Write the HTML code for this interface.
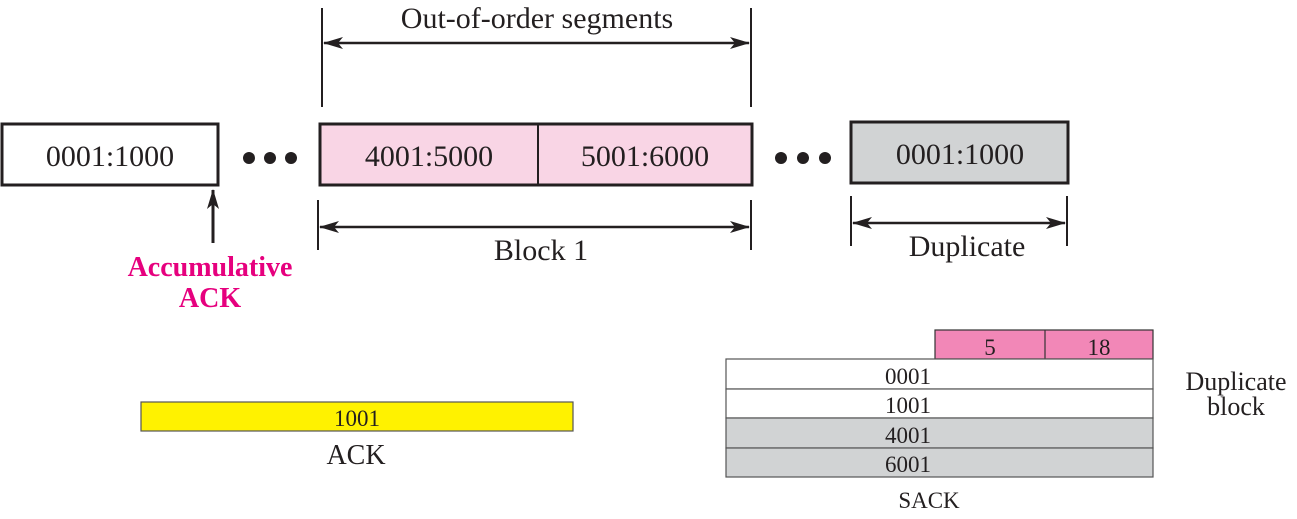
<!DOCTYPE html>
<html><head><meta charset="utf-8"><style>
html,body{margin:0;padding:0;background:#fff;}
svg{display:block;}
text{font-family:"Liberation Serif",serif;fill:#231f20;}
</style></head><body>
<svg width="1297" height="519" viewBox="0 0 1297 519" xmlns="http://www.w3.org/2000/svg">
<defs>
<marker id="ah" viewBox="0 0 20 12" refX="19" refY="6" markerWidth="20" markerHeight="12" markerUnits="userSpaceOnUse" orient="auto-start-reverse">
<path d="M0,0 L20,6 L0,12 L5,6 Z" fill="#231f20"/>
</marker>
</defs>
<!-- top bracket -->
<line x1="322" y1="8" x2="322" y2="107" stroke="#231f20" stroke-width="2"/>
<line x1="751" y1="8" x2="751" y2="107" stroke="#231f20" stroke-width="2"/>
<line x1="324" y1="43" x2="749" y2="43" stroke="#231f20" stroke-width="2.5" marker-start="url(#ah)" marker-end="url(#ah)"/>
<text x="537" y="28" font-size="30" text-anchor="middle">Out-of-order  segments</text>
<!-- boxes -->
<rect x="2" y="124" width="216" height="61" fill="#fff" stroke="#231f20" stroke-width="3"/>
<text x="110" y="166" font-size="30" text-anchor="middle">0001:1000</text>
<rect x="320" y="124" width="432" height="61" fill="#f9d5e5" stroke="#231f20" stroke-width="3"/>
<line x1="538" y1="124" x2="538" y2="185" stroke="#231f20" stroke-width="2"/>
<text x="429" y="166" font-size="30" text-anchor="middle">4001:5000</text>
<text x="645" y="166" font-size="30" text-anchor="middle">5001:6000</text>
<rect x="851" y="122" width="217" height="61" fill="#d1d3d4" stroke="#231f20" stroke-width="3"/>
<text x="960" y="164" font-size="30" text-anchor="middle">0001:1000</text>
<!-- dots -->
<g fill="#231f20">
<circle cx="249" cy="158" r="6"/><circle cx="270" cy="158" r="6"/><circle cx="291" cy="158" r="6"/>
<circle cx="781" cy="158" r="6"/><circle cx="803" cy="158" r="6"/><circle cx="825" cy="158" r="6"/>
</g>
<!-- block1 bracket -->
<line x1="318" y1="200" x2="318" y2="250" stroke="#231f20" stroke-width="2"/>
<line x1="751" y1="200" x2="751" y2="250" stroke="#231f20" stroke-width="2"/>
<line x1="320" y1="227" x2="749" y2="227" stroke="#231f20" stroke-width="2.5" marker-start="url(#ah)" marker-end="url(#ah)"/>
<text x="541" y="260" font-size="30" text-anchor="middle">Block 1</text>
<!-- duplicate bracket -->
<line x1="851" y1="196" x2="851" y2="246" stroke="#231f20" stroke-width="2"/>
<line x1="1067" y1="196" x2="1067" y2="246" stroke="#231f20" stroke-width="2"/>
<line x1="853" y1="223" x2="1065" y2="223" stroke="#231f20" stroke-width="2.5" marker-start="url(#ah)" marker-end="url(#ah)"/>
<text x="967" y="256" font-size="30" text-anchor="middle">Duplicate</text>
<!-- up arrow -->
<line x1="213" y1="243" x2="213" y2="190" stroke="#231f20" stroke-width="3" marker-end="url(#ah)"/>
<text x="210" y="276" font-size="28" font-weight="bold" text-anchor="middle" style="fill:#e6007e">Accumulative</text>
<text x="210" y="307" font-size="28" font-weight="bold" text-anchor="middle" style="fill:#e6007e">ACK</text>
<!-- ACK -->
<rect x="141" y="402" width="432" height="29" fill="#fff200" stroke="#555" stroke-width="1.2"/>
<text x="357" y="426" font-size="23" text-anchor="middle">1001</text>
<text x="356" y="464" font-size="28" text-anchor="middle">ACK</text>
<!-- SACK -->
<rect x="935" y="330" width="218" height="29" fill="#f287b7" stroke="#333" stroke-width="1.2"/>
<line x1="1045" y1="330" x2="1045" y2="359" stroke="#333" stroke-width="1.2"/>
<text x="990" y="355" font-size="23" text-anchor="middle">5</text>
<text x="1099" y="355" font-size="23" text-anchor="middle">18</text>
<rect x="726" y="359" width="427" height="30" fill="#fff" stroke="#555" stroke-width="1.2"/>
<rect x="726" y="389" width="427" height="29" fill="#fff" stroke="#555" stroke-width="1.2"/>
<rect x="726" y="418" width="427" height="30" fill="#d1d3d4" stroke="#555" stroke-width="1.2"/>
<rect x="726" y="448" width="427" height="29" fill="#d1d3d4" stroke="#555" stroke-width="1.2"/>
<text x="908" y="384" font-size="23" text-anchor="middle">0001</text>
<text x="908" y="413" font-size="23" text-anchor="middle">1001</text>
<text x="908" y="443" font-size="23" text-anchor="middle">4001</text>
<text x="908" y="472" font-size="23" text-anchor="middle">6001</text>
<text x="929" y="508" font-size="23" text-anchor="middle">SACK</text>
<text x="1236" y="390" font-size="26" text-anchor="middle">Duplicate</text>
<text x="1236" y="415" font-size="26" text-anchor="middle">block</text>
</svg>
</body></html>
